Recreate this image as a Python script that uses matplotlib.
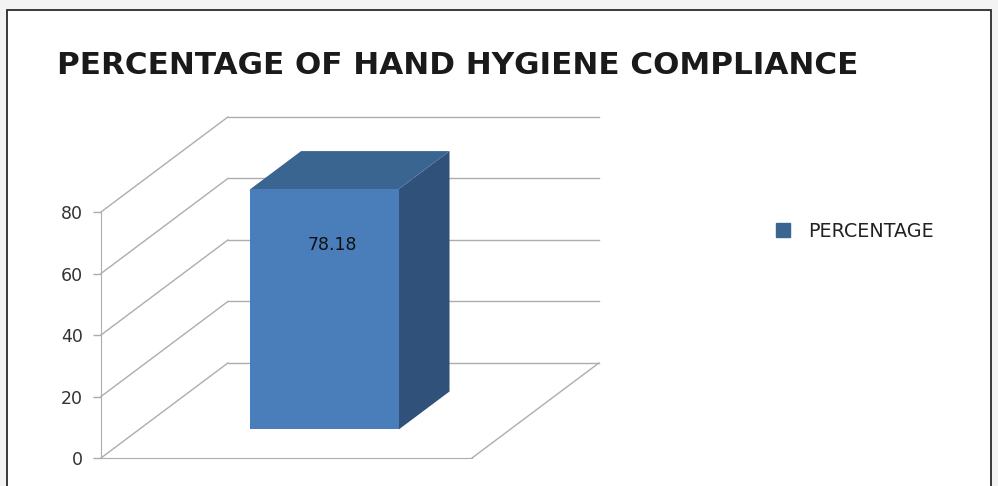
import matplotlib.pyplot as plt
from matplotlib.patches import Polygon, Rectangle, Patch

title = "PERCENTAGE OF HAND HYGIENE COMPLIANCE"
series_name = "PERCENTAGE"
categories = [""]
values = [78.18]
y_ticks = [0, 20, 40, 60, 80]

grid_c = "#adadad"
front_c = "#4a7ebb"
top_c = "#3a6591"
side_c = "#30527a"

# fake excel 3d: back wall shift (x in category units, y in value units)
depth_dx = 0.342
depth_dy = 30.9


def proj(x, v, d):
    return (x + d * depth_dx, v + d * depth_dy)


fig = plt.figure(figsize=(9.98, 4.86), dpi=100)
fig.patch.set_facecolor("#f3f3f3")
fig.patches.append(Rectangle((7/998, -0.1), 984/998, 1 - 10/486 + 0.1,
                             transform=fig.transFigure, facecolor="white",
                             edgecolor="#2b2b2b", lw=1.3, zorder=-5))

ax = fig.add_axes([101/998, 28/486, 371/998, 246/486])
ax.set_xlim(0, len(categories))
ax.set_ylim(0, 80)
ax.patch.set_visible(False)
ax.spines['top'].set_visible(False)
ax.spines['right'].set_visible(False)
ax.spines['left'].set_color(grid_c)
ax.spines['bottom'].set_color(grid_c)
ax.set_xticks([])
ax.set_yticks(y_ticks)
ax.tick_params(axis='y', length=6, width=1, color=grid_c, pad=7,
               labelsize=12.5, labelcolor="#333333")

# walls
n = len(categories)
for v in y_ticks:
    bx, by = proj(0, v, 1)
    ax.plot([0, bx], [v, by], color=grid_c, lw=1, clip_on=False, zorder=1)
    ex, ey = proj(n, v, 1)
    ax.plot([bx, ex], [by, ey], color=grid_c, lw=1, clip_on=False, zorder=1)
fx, fy = proj(n, 0, 0)
ex, ey = proj(n, 0, 1)
ax.plot([fx, ex], [fy, ey], color=grid_c, lw=1, clip_on=False, zorder=1)

# bars
d0, d1 = 0.3, 0.7
for i, v in enumerate(values):
    c = i + 0.5
    x0, x1 = c - 0.2, c + 0.2
    front = [proj(x0, 0, d0), proj(x1, 0, d0), proj(x1, v, d0), proj(x0, v, d0)]
    top = [proj(x0, v, d0), proj(x1, v, d0), proj(x1, v, d1), proj(x0, v, d1)]
    side = [proj(x1, 0, d0), proj(x1, 0, d1), proj(x1, v, d1), proj(x1, v, d0)]
    ax.add_patch(Polygon(side, closed=True, facecolor=side_c, edgecolor="none", clip_on=False, zorder=3))
    ax.add_patch(Polygon(top, closed=True, facecolor=top_c, edgecolor="none", clip_on=False, zorder=3))
    ax.add_patch(Polygon(front, closed=True, facecolor=front_c, edgecolor="none", clip_on=False, zorder=3))
    ax.annotate(f"{v:.2f}", xy=proj(c, v, d0), xytext=(8, -56), textcoords='offset pixels',
                ha='center', va='center', fontsize=12.5, color="#111111", zorder=4,
                annotation_clip=False)

fig.text(57/998, 1 - 74/486, title, fontsize=22.3, fontweight='heavy',
         color="#1a1a1a", va='baseline')

fig.legend(handles=[Patch(color=top_c)], labels=[series_name], loc='center left',
           bbox_to_anchor=(776/998, 1 - 231/486), frameon=False, fontsize=13.8,
           handlelength=0.75, handleheight=0.75, handletextpad=0.93,
           borderpad=0, borderaxespad=0, labelcolor="#222222")

fig.savefig("out.png", dpi=100)
